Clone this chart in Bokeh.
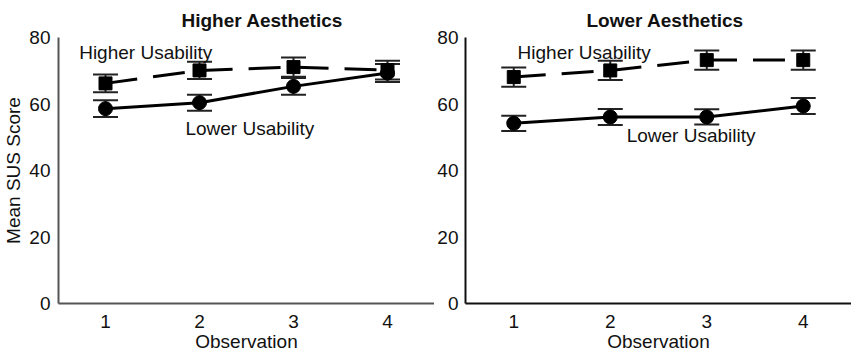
from bokeh.plotting import figure
from bokeh.layouts import row
from bokeh.models import ColumnDataSource, Whisker, TeeHead, Label, FixedTicker, Range1d
from bokeh.embed import file_html
from bokeh.resources import INLINE

observations = [1, 2, 3, 4]
y_ticks = [0, 20, 40, 60, 80]

# Higher Aesthetics panel
ha_high_usab = [66.2, 70.1, 71.1, 70.2]
ha_high_err = [2.7, 2.6, 2.9, 2.8]
ha_low_usab = [58.6, 60.4, 65.3, 69.3]
ha_low_err = [2.5, 2.4, 2.5, 2.7]

# Lower Aesthetics panel
la_high_usab = [68.1, 70.1, 73.2, 73.2]
la_high_err = [2.9, 2.9, 2.9, 2.9]
la_low_usab = [54.2, 56.1, 56.1, 59.4]
la_low_err = [2.3, 2.4, 2.3, 2.4]

FONT = "Liberation Sans"
FS = "19px"
INK = "#111111"


def make_panel(title, high, high_err, low, low_err, frame_w, border_left, show_ylabel,
               axis_color, title_offset, labels):
    p = figure(frame_width=frame_w, frame_height=266, output_backend="svg",
               toolbar_location=None,
               x_range=Range1d(0.5, 4.5), y_range=Range1d(0, 80),
               min_border_left=border_left, min_border_right=0,
               min_border_top=37, min_border_bottom=47)
    p.title.text = title
    p.title.text_font = FONT
    p.title.text_font_size = FS
    p.title.text_font_style = "bold"
    p.title.text_color = INK
    p.title.align = "left"
    p.title.offset = title_offset
    p.title.standoff = 13
    p.outline_line_color = None
    p.grid.visible = False
    p.background_fill_color = None
    p.border_fill_color = None

    for ax in (p.xaxis[0], p.yaxis[0]):
        ax.axis_line_color = axis_color
        ax.axis_line_width = 2
        ax.major_tick_line_color = None
        ax.minor_tick_line_color = None
        ax.major_label_text_font = FONT
        ax.major_label_text_font_size = FS
        ax.major_label_text_color = INK
        ax.axis_label_text_font = FONT
        ax.axis_label_text_font_size = FS
        ax.axis_label_text_font_style = "normal"
        ax.axis_label_text_color = INK
    p.xaxis.ticker = FixedTicker(ticks=observations)
    p.yaxis.ticker = FixedTicker(ticks=y_ticks)
    p.xaxis.axis_label = "Observation"
    p.xaxis.major_label_standoff = 5
    p.xaxis.axis_label_standoff = 0
    if show_ylabel:
        p.yaxis.axis_label = "Mean SUS Score"
        p.yaxis.axis_label_standoff = 2
        p.yaxis.major_label_standoff = 2
    else:
        p.yaxis.axis_label_standoff = 0
        p.yaxis.major_label_standoff = 1

    src_h = ColumnDataSource(dict(x=observations, y=high,
                                  up=[v + e for v, e in zip(high, high_err)],
                                  lo=[v - e for v, e in zip(high, high_err)]))
    src_l = ColumnDataSource(dict(x=observations, y=low,
                                  up=[v + e for v, e in zip(low, low_err)],
                                  lo=[v - e for v, e in zip(low, low_err)]))

    for src in (src_h, src_l):
        w = Whisker(source=src, base="x", upper="up", lower="lo", dimension="height",
                    line_color="#222222", line_width=2,
                    upper_head=TeeHead(size=25, line_color="#222222", line_width=2),
                    lower_head=TeeHead(size=25, line_color="#222222", line_width=2))
        p.add_layout(w)

    p.line("x", "y", source=src_h, line_color="black", line_width=3, line_dash="32 16")
    p.line("x", "y", source=src_l, line_color="black", line_width=3)
    p.scatter("x", "y", source=src_h, marker="square", size=13, fill_color="black",
              line_color="black")
    p.scatter("x", "y", source=src_l, marker="circle", size=14, fill_color="black",
              line_color="black")

    for text, x, y in labels:
        p.add_layout(Label(x=x, y=y, text=text, text_font=FONT, text_font_size=FS,
                           text_color=INK, text_baseline="middle", text_align="left"))
    return p


p1 = make_panel("Higher Aesthetics", ha_high_usab, ha_high_err, ha_low_usab, ha_low_err,
                frame_w=376, border_left=51, show_ylabel=True, axis_color="#555555",
                title_offset=123,
                labels=[("Higher Usability", 0.72, 75.5), ("Lower Usability", 1.85, 52.6)])
p2 = make_panel("Lower Aesthetics", la_high_usab, la_high_err, la_low_usab, la_low_err,
                frame_w=386, border_left=28, show_ylabel=False, axis_color="#111111",
                title_offset=121,
                labels=[("Higher Usability", 1.04, 75.5), ("Lower Usability", 2.17, 50.5)])

layout = row(p1, p2)
open("out.html", "w").write(file_html(layout, INLINE))
